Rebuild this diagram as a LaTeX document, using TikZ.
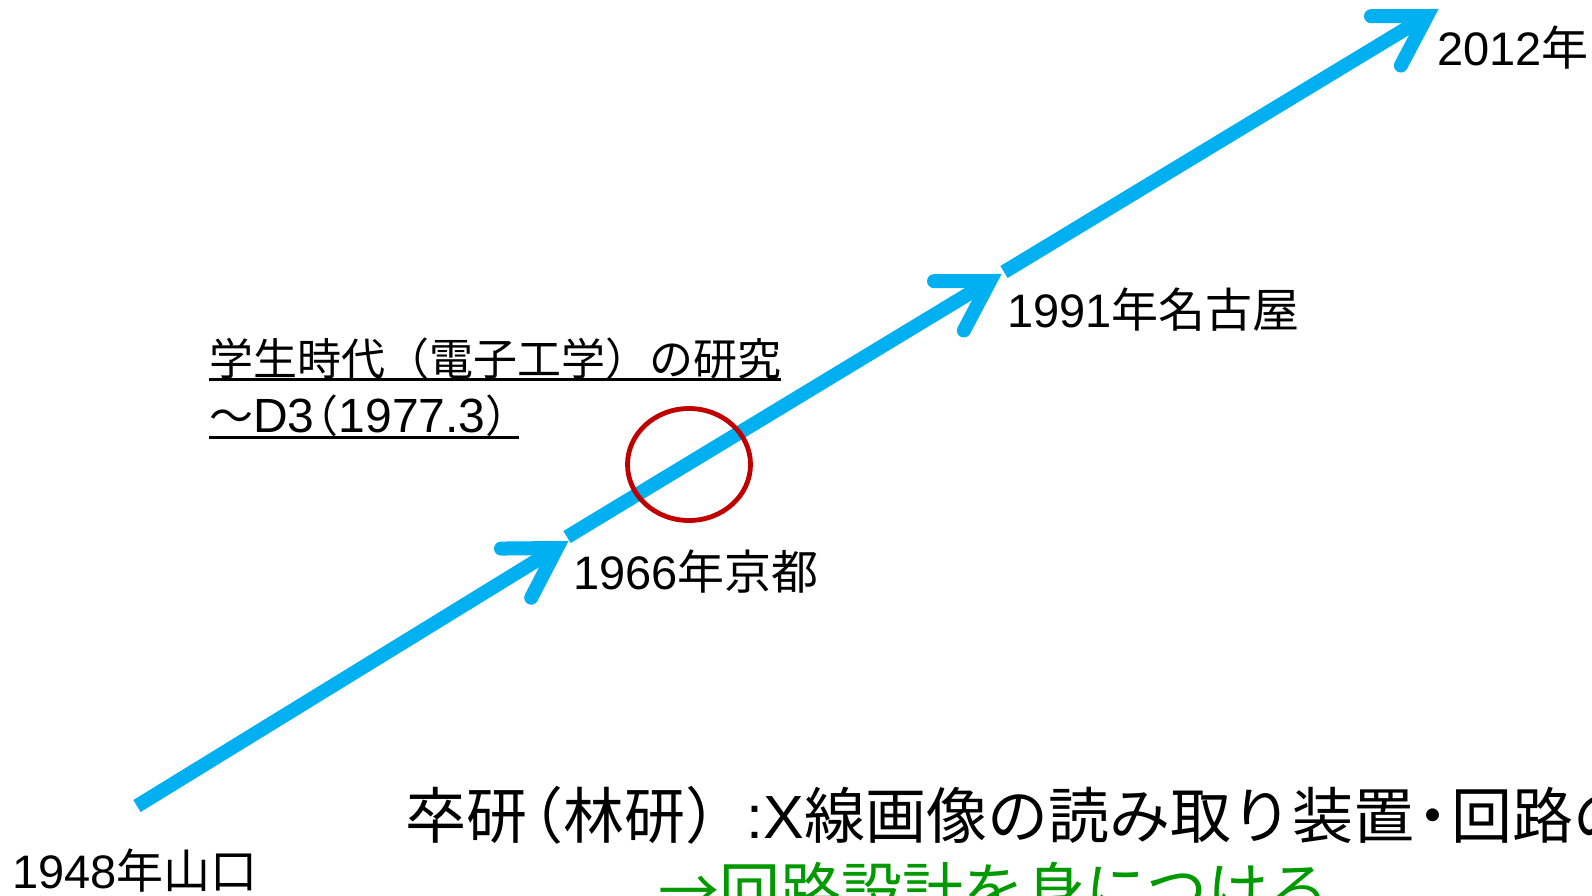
\documentclass[tikz,border=0pt]{standalone}
\usepackage{fontspec}
\setmainfont{Liberation Sans}
\newfontfamily\cjk{Noto Sans CJK JP}
\newfontfamily\lat{Liberation Sans}
\usetikzlibrary{calc}
\definecolor{arrowblue}{HTML}{00B0F0}
\definecolor{circred}{HTML}{C00000}
\definecolor{textgreen}{HTML}{009900}
\begin{document}
\begin{tikzpicture}[x=1pt,y=-1pt,
  shaft/.style={draw=arrowblue,line width=14pt,line cap=butt},
  barb/.style={draw=arrowblue,line width=14pt,line cap=round,line join=miter},
  yearlabel/.style={anchor=base west,inner sep=0pt,font=\fontsize{47}{56}\selectfont},
  notelabel/.style={anchor=base west,inner sep=0pt,font=\fontsize{44}{53}\selectfont},
  bigtext/.style={anchor=base west,inner sep=0pt,font=\fontsize{61}{73}\selectfont},
  uline/.style={draw=black,line width=3pt},
]
\useasboundingbox[fill=white] (0,0) rectangle (1592,895);

% timeline coordinates
\coordinate (s1) at (137,806);
\coordinate (v1) at (557,548);
\coordinate (s2) at (567,537);
\coordinate (v2) at (990,281);
\coordinate (s3) at (1004,272);
\coordinate (v3) at (1427,16);

% arrows
\draw[shaft] (s1) -- (v1);
\draw[barb] ($(v1)!56pt!31:(s1)$) -- (v1) -- ($(v1)!56pt!-31:(s1)$);
\draw[shaft] (s2) -- (v2);
\draw[barb] ($(v2)!56pt!31:(s2)$) -- (v2) -- ($(v2)!56pt!-31:(s2)$);
\draw[shaft] (s3) -- (v3);
\draw[barb] ($(v3)!56pt!31:(s3)$) -- (v3) -- ($(v3)!56pt!-31:(s3)$);

% red circle
\draw[circred,line width=4.8pt] (689,464.5) ellipse [x radius=61.5pt, y radius=56pt];

% year labels
\node[yearlabel] (y2012) at (1437,65) {2012{\cjk 年}};
\node[yearlabel] (y1991) at (1007,327) {1991{\cjk 年名古屋}};
\node[yearlabel] (y1966) at (573,589) {1966{\cjk 年京都}};
\node[yearlabel] (y1948) at (12,888) {1948{\cjk 年山口}};

% underlined note
\node[notelabel] (note1) at (209,375) {\cjk 学生時代（電子工学）の研究};
\node[notelabel] (note2) at (209,432) {{\cjk ～}{\fontsize{48}{56}\selectfont D3}{\cjk\kern-0.45em（}{\fontsize{48}{56}\selectfont 1977.3}{\cjk ）\kern-0.25em}};
\draw[uline] ([yshift=-4pt]note1.base west) -- ([yshift=-4pt]note1.base east);
\draw[uline] ([yshift=-5pt]note2.base west) -- ([yshift=-5pt]note2.base east);

% bottom text
\node[bigtext] (bottom1) at (405,838) {\cjk 卒研\kern-0.4em（林研）{\lat :X}線画像の読み取り装置\kern-0.2em・\kern-0.2em回路の};
\node[bigtext,text=textgreen] (bottom2) at (658,913) {\cjk →回路設計を身につける};
\end{tikzpicture}
\end{document}
